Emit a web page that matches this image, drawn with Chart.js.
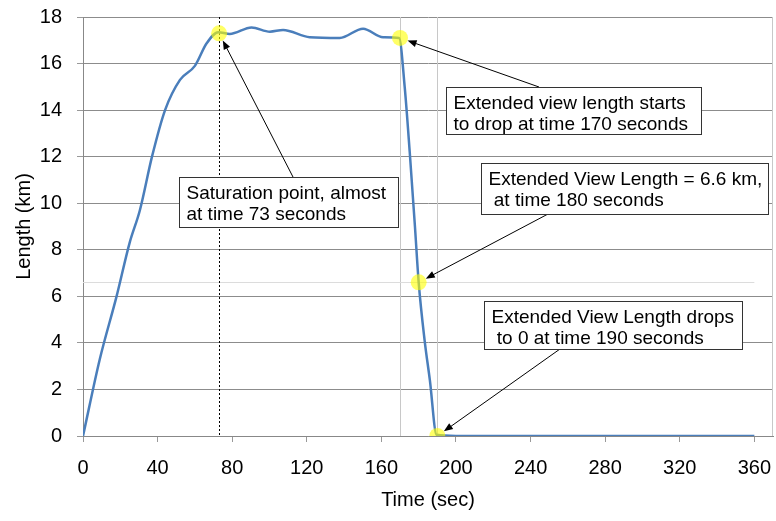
<!DOCTYPE html>
<html lang="en">
<head>
  <meta charset="UTF-8">
  <title>Extended view length over time</title>
  <script src="https://cdn.jsdelivr.net/npm/chart.js"></script>
  <style>
    body {
      margin: 0;
      background: #fff;
    }
    #wrap {
      width: 776px;
      height: 521px;
    }
  </style>
</head>
<body>
  <div id="wrap"><canvas id="viewChart" width="776" height="521"></canvas></div>

  <script>
    // curve
    const timeSec  = [0, 9, 18, 25, 30.5, 37, 44, 52, 60, 66.3, 72.5, 78.7, 90.4, 100.2, 107.3, 121.6, 137.7, 150.2, 160.9, 169.5, 172.5, 175.2, 178, 180, 183.2, 186, 189.6, 200, 360];
    const lengthKm = [0, 3.3, 6.0, 8.3, 9.7, 12.0, 14.0, 15.3, 15.9, 16.87, 17.35, 17.27, 17.55, 17.37, 17.44, 17.13, 17.1, 17.5, 17.13, 17.1, 15.0, 12.2, 9.0, 6.6, 4.1, 2.4, 0.05, 0, 0];

    // highlighted points
    const markTime   = [73, 170, 180, 190];
    const markLength = [17.3, 17.1, 6.6, 0];

    const xTickValues = [0, 40, 80, 120, 160, 200, 240, 280, 320, 360];
    const yTickValues = [0, 2, 4, 6, 8, 10, 12, 14, 16, 18];

    // guide lines
    const dottedTime = 73;
    const lightTimes = [170, 190];
    const lightLength = 6.6;

    const noteText = [
      ['Saturation point, almost', 'at time 73 seconds'],
      ['Extended view length starts', 'to drop at time 170 seconds'],
      ['Extended View Length = 6.6 km,', ' at time 180 seconds'],
      ['Extended View Length drops', ' to 0 at time 190 seconds']
    ];

    const FONT = "'Liberation Sans', Arial, sans-serif";

    // boxes: left, top, width, height ; arrow start point
    const noteBoxes = [
      { box: [179, 177, 219, 50], from: [293, 177] },
      { box: [446, 87, 255, 47], from: [539, 87] },
      { box: [481, 163, 287, 51], from: [548, 214] },
      { box: [484, 301, 258, 48], from: [560, 349] }
    ];

    const guides = {
      id: 'guides',
      beforeDatasetsDraw(chart) {
        const { ctx, chartArea: a, scales: { x, y } } = chart;
        ctx.save();
        ctx.lineWidth = 1;
        // right border
        ctx.strokeStyle = '#c8c8c8';
        ctx.beginPath();
        ctx.moveTo(a.right - 0.5, a.top);
        ctx.lineTo(a.right - 0.5, a.bottom);
        ctx.stroke();
        // light lines at 170 and 190 s
        lightTimes.forEach(t => {
          const px = Math.round(x.getPixelForValue(t)) + 0.5;
          ctx.beginPath();
          ctx.moveTo(px, a.top);
          ctx.lineTo(px, a.bottom);
          ctx.stroke();
        });
        // light line at 6.6 km
        ctx.strokeStyle = '#dcdcdc';
        const py = Math.round(y.getPixelForValue(lightLength)) + 0.5;
        ctx.beginPath();
        ctx.moveTo(x.getPixelForValue(0), py);
        ctx.lineTo(x.getPixelForValue(360), py);
        ctx.stroke();
        // dotted line at 73 s
        ctx.strokeStyle = '#000';
        ctx.setLineDash([2, 2]);
        const dx = Math.round(x.getPixelForValue(dottedTime)) + 0.5;
        ctx.beginPath();
        ctx.moveTo(dx, a.top);
        ctx.lineTo(dx, a.bottom);
        ctx.stroke();
        ctx.restore();
      },
      afterDatasetsDraw(chart) {
        const { ctx, scales: { x, y } } = chart;
        ctx.save();
        noteBoxes.forEach((n, i) => {
          const [bx, by, bw, bh] = n.box;
          // arrow
          const mx = x.getPixelForValue(markTime[i]);
          const my = y.getPixelForValue(markLength[i]);
          const [sx, sy] = n.from;
          const len = Math.hypot(sx - mx, sy - my);
          const ux = (sx - mx) / len, uy = (sy - my) / len;
          const tx = mx + ux * 8, ty = my + uy * 8;
          ctx.strokeStyle = '#000';
          ctx.fillStyle = '#000';
          ctx.lineWidth = 1;
          ctx.beginPath();
          ctx.moveTo(sx, sy);
          ctx.lineTo(tx + ux * 6, ty + uy * 6);
          ctx.stroke();
          ctx.beginPath();
          ctx.moveTo(tx, ty);
          ctx.lineTo(tx + ux * 9 - uy * 3.5, ty + uy * 9 + ux * 3.5);
          ctx.lineTo(tx + ux * 9 + uy * 3.5, ty + uy * 9 - ux * 3.5);
          ctx.closePath();
          ctx.fill();
          // box
          ctx.fillStyle = '#fff';
          ctx.fillRect(bx, by, bw, bh);
          ctx.strokeStyle = '#333';
          ctx.strokeRect(bx + 0.5, by + 0.5, bw, bh);
          ctx.fillStyle = '#000';
          ctx.font = '19px ' + FONT;
          ctx.textBaseline = 'middle';
          ctx.textAlign = 'left';
          noteText[i].forEach((line, j) => {
            ctx.fillText(line, bx + 7.5, by + 16.5 + j * 21.5);
          });
        });
        ctx.restore();
      }
    };

    new Chart(document.getElementById('viewChart'), {
      type: 'scatter',
      data: {
        datasets: [
          {
            label: 'Markers',
            data: markTime.map((t, i) => ({ x: t, y: markLength[i] })),
            pointRadius: 8,
            pointBackgroundColor: 'rgba(255, 255, 0, 0.6)',
            pointBorderWidth: 0,
            showLine: false
          },
          {
            label: 'Extended view length',
            data: timeSec.map((t, i) => ({ x: t, y: lengthKm[i] })),
            showLine: true,
            borderColor: '#4a7ebb',
            borderWidth: 2.5,
            pointRadius: 0,
            cubicInterpolationMode: 'monotone',
            order: 1
          }
        ]
      },
      options: {
        responsive: false,
        animation: false,
        events: [],
        layout: { autoPadding: false, padding: { top: 17, right: 3, left: 0, bottom: 0 } },
        plugins: {
          legend: { display: false },
          tooltip: { enabled: false }
        },
        scales: {
          x: {
            type: 'linear',
            min: 0,
            max: 370,
            afterBuildTicks: s => { s.ticks = xTickValues.map(v => ({ value: v })); },
            afterFit: s => {
              s.height = 85;
              s.paddingLeft = 0;
              s.paddingRight = 0;
            },
            grid: { drawOnChartArea: false, tickLength: 6, tickColor: '#999' },
            border: { color: '#888' },
            ticks: { color: '#000', padding: 14, maxRotation: 0, font: { size: 20, family: FONT } },
            title: {
              display: true,
              text: 'Time (sec)',
              color: '#000',
              padding: { top: 0, bottom: 9 },
              font: { size: 20, family: FONT }
            }
          },
          y: {
            min: 0,
            max: 18,
            afterBuildTicks: s => { s.ticks = yTickValues.map(v => ({ value: v })); },
            afterFit: s => {
              s.width = 83;
              s.paddingTop = 0;
              s.paddingBottom = 0;
            },
            grid: { color: '#8c8c8c', tickLength: 6, tickColor: '#999' },
            border: { color: '#888' },
            ticks: { color: '#000', padding: 15, font: { size: 20, family: FONT } },
            title: {
              display: true,
              text: 'Length (km)',
              color: '#000',
              padding: { top: 12, bottom: 0 },
              font: { size: 20, family: FONT }
            }
          }
        }
      },
      plugins: [guides]
    });
  </script>
</body>
</html>
